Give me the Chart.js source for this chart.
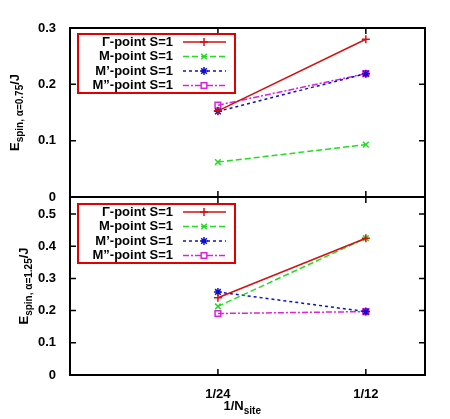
<!DOCTYPE html>
<html>
<head>
  <title>Spin gap vs 1/Nsite</title>
  <script src="https://cdn.jsdelivr.net/npm/chart.js"></script>
  <style>body{margin:0;background:#fff}</style>
</head>
<body>
  <canvas id="myChart" width="450" height="419"></canvas>
  <script>
    const xValues = [1 / 24, 1 / 12];
    const xTickLabels = {'0.0417': '1/24', '0.0833': '1/12'};
    const seriesNames = ['\u0393-point S=1', 'M-point S=1', 'M\u2019-point S=1', 'M\u201d-point S=1'];
    const topTicks = [0, 0.05, 0.1, 0.15, 0.2, 0.25, 0.3];
    const botTicks = [0, 0.1, 0.2, 0.3, 0.4, 0.5];
    // alpha = 0.75 (top panel)
    const topGamma = [0.153, 0.280];
    const topM = [0.062, 0.093];
    const topM1 = [0.152, 0.219];
    const topM2 = [0.163, 0.219];
    // alpha = 1.25 (bottom panel)
    const botGamma = [0.240, 0.425];
    const botM = [0.213, 0.425];
    const botM1 = [0.258, 0.197];
    const botM2 = [0.191, 0.197];

    const colors = ['#d41010', '#22dd22', '#1010c8', '#e020e0'];
    const dashes = [[], [6, 3], [3, 3], [6, 2, 2, 2]];
    const shapes = ['cross', 'crossRot', 'star', 'rect'];

    function pts(vals) { return vals.map((v, i) => ({x: xValues[i], y: v})); }

    const datasets = [];
    [[topGamma, topM, topM1, topM2], [botGamma, botM, botM1, botM2]].forEach((group, p) => {
      group.forEach((vals, i) => {
        datasets.push({
          label: seriesNames[i], data: pts(vals), yAxisID: p === 0 ? 'yTop' : 'yBot',
          borderColor: colors[i], backgroundColor: i === 3 ? 'rgba(0,0,0,0)' : colors[i],
          borderWidth: 1.5, borderDash: dashes[i], pointStyle: shapes[i], pointRadius: 4,
          pointBorderWidth: 1.5, fill: false, panel: p
        });
      });
    });

    const tickFont = {family: 'Liberation Sans', size: 13, weight: 'bold'};

    function drawTitle(ctx, x, y, sub) {
      ctx.save();
      ctx.translate(x, y);
      ctx.rotate(-Math.PI / 2);
      ctx.fillStyle = '#000';
      ctx.textAlign = 'left';
      ctx.textBaseline = 'alphabetic';
      const big = 'bold 13px Liberation Sans', small = 'bold 10px Liberation Sans';
      ctx.font = big; const w1 = ctx.measureText('E').width;
      ctx.font = small; const w2 = ctx.measureText(sub).width;
      ctx.font = big; const w3 = ctx.measureText('/J').width;
      let cx = -(w1 + w2 + w3) / 2;
      ctx.font = big; ctx.fillText('E', cx, 0); cx += w1;
      ctx.font = small; ctx.fillText(sub, cx, 4); cx += w2;
      ctx.font = big; ctx.fillText('/J', cx, 0);
      ctx.restore();
    }

    const gnuplotLook = {
      id: 'gnuplotLook',
      afterDraw(chart) {
        const ctx = chart.ctx, a = chart.chartArea, s = chart.scales;
        const mid = s.yTop.bottom;
        ctx.save();
        ctx.strokeStyle = '#000'; ctx.lineWidth = 2;
        ctx.strokeRect(a.left, a.top, a.right - a.left, a.bottom - a.top);
        ctx.beginPath(); ctx.moveTo(a.left, mid); ctx.lineTo(a.right, mid); ctx.stroke();
        ctx.lineWidth = 1.5;
        ['yTop', 'yBot'].forEach(id => {
          s[id].ticks.forEach(t => {
            const y = s[id].getPixelForValue(t.value);
            ctx.beginPath();
            ctx.moveTo(a.left, y); ctx.lineTo(a.left + 6, y);
            ctx.moveTo(a.right, y); ctx.lineTo(a.right - 6, y);
            ctx.stroke();
          });
        });
        xValues.forEach(v => {
          const x = s.x.getPixelForValue(v);
          [[s.yTop.top, 1], [mid, -1], [mid, 1], [a.bottom, -1]].forEach(([y, d]) => {
            ctx.beginPath(); ctx.moveTo(x, y); ctx.lineTo(x, y + 6 * d); ctx.stroke();
          });
        });
        // legends
        [s.yTop.top + 6, mid + 7].forEach((top, p) => {
          ctx.lineWidth = 2; ctx.strokeStyle = '#e00000'; ctx.setLineDash([]);
          ctx.strokeRect(78, top, 157, 59);
          chart.data.datasets.filter(d => d.panel === p).forEach((d, i) => {
            const y = top + 8 + i * 14.5;
            ctx.fillStyle = '#000'; ctx.font = 'bold 13px Liberation Sans';
            ctx.textAlign = 'right'; ctx.textBaseline = 'middle';
            ctx.fillText(d.label, 173, y);
            ctx.strokeStyle = d.borderColor; ctx.fillStyle = d.backgroundColor; ctx.lineWidth = 1.5;
            ctx.setLineDash(d.borderDash);
            ctx.beginPath(); ctx.moveTo(183, y); ctx.lineTo(226, y); ctx.stroke();
            ctx.setLineDash([]);
            if (d.pointStyle === 'rect') { ctx.fillStyle = '#fff'; }
            Chart.helpers.drawPoint(ctx, {pointStyle: d.pointStyle, radius: 4, borderWidth: 1.5}, 204, y);
          });
        });
        drawTitle(ctx, 19, (s.yTop.top + mid) / 2, 'spin, \u03b1=0.75');
        drawTitle(ctx, 28, (mid + a.bottom) / 2, 'spin, \u03b1=1.25');
        ctx.fillStyle = '#000'; ctx.textAlign = 'left'; ctx.textBaseline = 'alphabetic';
        const cx = (a.left + a.right) / 2 - 4;
        ctx.font = 'bold 13px Liberation Sans'; ctx.fillText('1/N', cx - 20, 410);
        const w = ctx.measureText('1/N').width;
        ctx.font = 'bold 10px Liberation Sans'; ctx.fillText('site', cx - 20 + w, 414);
        ctx.restore();
      }
    };

    new Chart(document.getElementById('myChart'), {
      type: 'line',
      data: {datasets},
      options: {
        responsive: false, animation: false,
        layout: {padding: {top: 28, right: 25, left: 0, bottom: 0}},
        plugins: {legend: {display: false}, tooltip: {enabled: false}},
        scales: {
          x: {
            type: 'linear', min: 0, max: 0.1,
            afterFit: sc => { sc.height = 44; },
            afterBuildTicks: sc => { sc.ticks = xValues.map(v => ({value: v})); },
            ticks: {font: tickFont, color: '#000', padding: 4,
              callback: v => xTickLabels[v.toFixed(4)] || ''},
            grid: {display: false}, border: {display: false}
          },
          yBot: {
            type: 'linear', position: 'left', stack: 'panels', stackWeight: 178,
            min: 0, max: 0.553, afterFit: sc => { sc.width = 70; },
            afterBuildTicks: sc => { sc.ticks = botTicks.map(v => ({value: v})); },
            ticks: {font: tickFont, color: '#000', padding: 6, callback: v => String(+v.toFixed(2))},
            grid: {display: false}, border: {display: false}
          },
          yTop: {
            type: 'linear', position: 'left', stack: 'panels', stackWeight: 169,
            min: 0, max: 0.3, afterFit: sc => { sc.width = 70; },
            afterBuildTicks: sc => { sc.ticks = topTicks.map(v => ({value: v})); },
            ticks: {font: tickFont, color: '#000', padding: 6, callback: v => String(+v.toFixed(2))},
            grid: {display: false}, border: {display: false}
          }
        }
      },
      plugins: [gnuplotLook]
    });
  </script>
</body>
</html>
